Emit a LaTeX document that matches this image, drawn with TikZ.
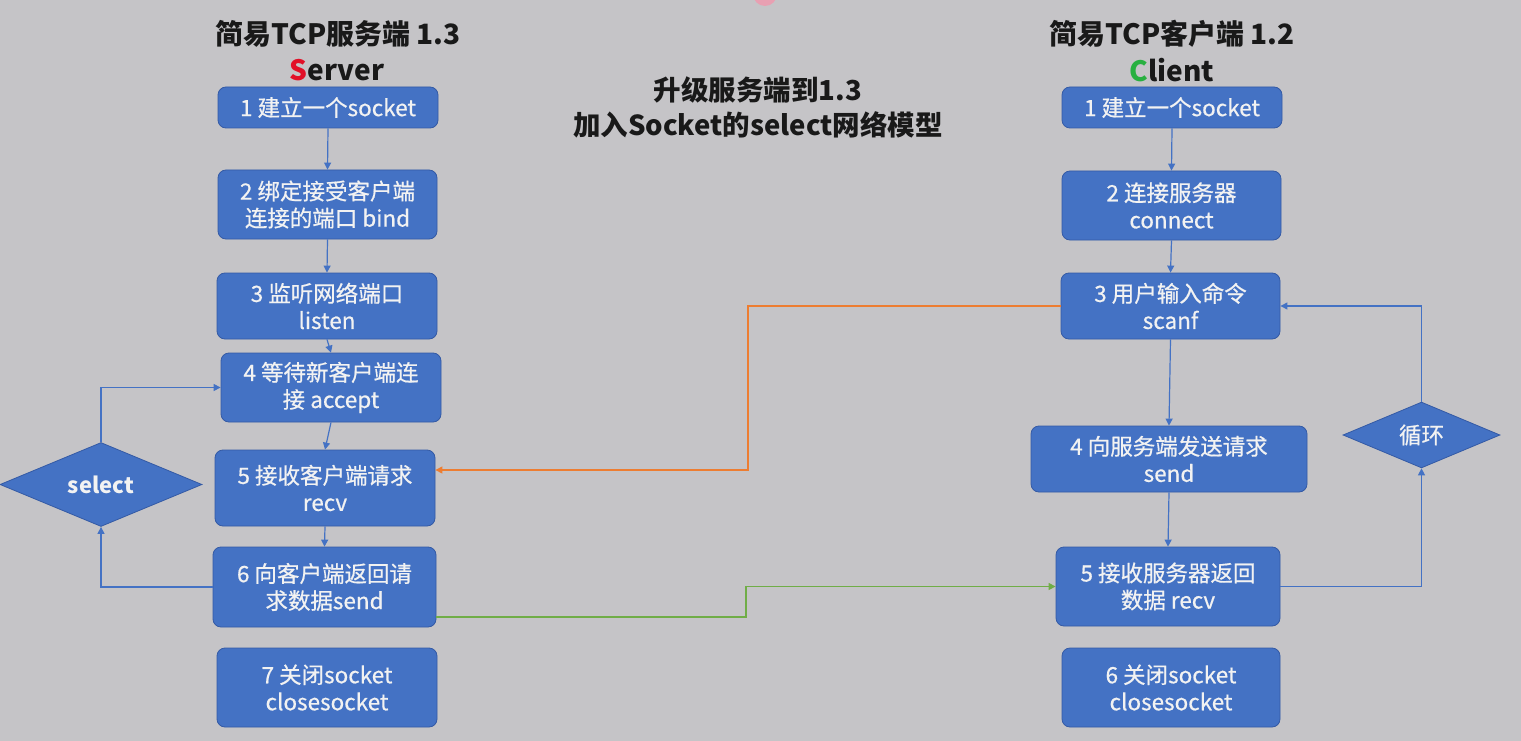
\documentclass[tikz,border=0pt]{standalone}
\usepackage{fontspec}
\setmainfont{Noto Sans CJK SC}
\newfontfamily\boxfont{Noto Sans CJK SC}[FakeBold=0.6]
\usetikzlibrary{arrows.meta,shapes.geometric}
\definecolor{bg}{RGB}{197,196,199}
\definecolor{boxblue}{RGB}{68,114,196}
\definecolor{boxedge}{RGB}{52,90,165}
\definecolor{boxtext}{RGB}{242,242,242}
\definecolor{orangeline}{RGB}{237,125,49}
\definecolor{greenline}{RGB}{112,173,71}
\definecolor{sred}{RGB}{226,16,40}
\definecolor{cgreen}{RGB}{40,176,64}
\definecolor{blob}{RGB}{232,160,178}
\begin{document}
\begin{tikzpicture}[x=1pt,y=-1pt,
  stepbox/.style={draw=boxedge, fill=boxblue, rounded corners=8pt, text=boxtext,
    align=center, inner sep=0pt, line width=0.8pt,
    font=\boxfont\fontsize{22.5}{27}\selectfont},
  decide/.style={diamond, draw=boxedge, fill=boxblue, text=boxtext, inner sep=0pt,
    line width=0.8pt, font=\boxfont\fontsize{22.5}{27}\selectfont},
  title/.style={inner sep=0pt, font=\bfseries\fontsize{28}{32}\selectfont, text=black!90},
  flow/.style={draw=boxblue, line width=1.2pt, -{Triangle[width=7pt,length=7pt]}},
  oflow/.style={draw=orangeline, line width=1.2pt, -{Triangle[width=7pt,length=7pt]}},
  gflow/.style={draw=greenline, line width=1.2pt, -{Triangle[width=7pt,length=7pt]}}
]
\fill[bg] (0,0) rectangle (1521,741);
\useasboundingbox (0,0) rectangle (1521,741);
\fill[blob] (765,-6) circle (12);

% titles
\node[title] (st) at (338,34) {简易TCP服务端 1.3};
\node[title] (ss) at (337,70) {\textcolor{sred}{S}erver};
\node[title] (ct) at (1172,34) {简易TCP客户端 1.2};
\node[title] (cs) at (1172,70) {\textcolor{cgreen}{C}lient};
\node[title, align=center, font=\bfseries\fontsize{27.5}{35}\selectfont] (mt) at (758,107) {升级服务端到1.3\\加入Socket的select网络模型};

% server boxes
\node[stepbox, minimum width=220, minimum height=41] (s1) at (328,107.5) {1 建立一个socket};
\node[stepbox, minimum width=219, minimum height=69] (s2) at (327.5,204.5) {2 绑定接受客户端\\连接的端口 bind};
\node[stepbox, minimum width=220, minimum height=66] (s3) at (327,306) {3 监听网络端口\\listen};
\node[stepbox, minimum width=220, minimum height=69] (s4) at (331,387.5) {4 等待新客户端连\\接 accept};
\node[stepbox, minimum width=220, minimum height=76] (s5) at (325,488) {5 接收客户端请求\\recv};
\node[stepbox, minimum width=223, minimum height=80] (s6) at (324.5,587) {6 向客户端返回请\\求数据send};
\node[stepbox, minimum width=220, minimum height=79] (s7) at (327,687.5) {7 关闭socket\\closesocket};
\node[decide, minimum width=202, minimum height=83, font=\bfseries\fontsize{22}{27}\selectfont] (sel) at (101,484.5) {select};

% client boxes
\node[stepbox, minimum width=220, minimum height=41] (c1) at (1172,107.5) {1 建立一个socket};
\node[stepbox, minimum width=219, minimum height=69] (c2) at (1171.5,205.5) {2 连接服务器\\connect};
\node[stepbox, minimum width=219, minimum height=66] (c3) at (1170.5,306) {3 用户输入命令\\scanf};
\node[stepbox, minimum width=276, minimum height=66] (c4) at (1169,459) {4 向服务端发送请求\\send};
\node[stepbox, minimum width=224, minimum height=79] (c5) at (1168,586.5) {5 接收服务器返回\\数据 recv};
\node[stepbox, minimum width=218, minimum height=79] (c6) at (1171,687.5) {6 关闭socket\\closesocket};
\node[decide, minimum width=157, minimum height=60] (loop) at (1421.5,435) {循环};

\coordinate (ox) at (748,0);
\coordinate (gx) at (746,0);

% server flow
\draw[flow] (s1.south) -- (s2.north);
\draw[flow] (s2.south) -- (s3.north);
\draw[flow] (s3.south) -- (s4.north);
\draw[flow] (s4.south) -- (s5.north);
\draw[flow] (s5.south) -- (s6.north);
\draw[flow] (s6.west) -| (sel.south);
\draw[flow] (sel.north) |- (s4.west);

% client flow
\draw[flow] (c1.south) -- (c2.north);
\draw[flow] (c2.south) -- (c3.north);
\draw[flow] (c3.south) -- (c4.north);
\draw[flow] (c4.south) -- (c5.north);
\draw[flow] (c5.east) -| (loop.south);
\draw[flow] (loop.north) |- (c3.east);

% cross flows
\draw[oflow] (c3.west) -- (c3.west -| ox) -- ([yshift=18pt]s5.east -| ox) -- ([yshift=18pt]s5.east);
\draw[gflow] ([yshift=-30pt]s6.east) -- ([yshift=-30pt]s6.east -| gx) -- (c5.west -| gx) -- (c5.west);
\end{tikzpicture}
\end{document}
